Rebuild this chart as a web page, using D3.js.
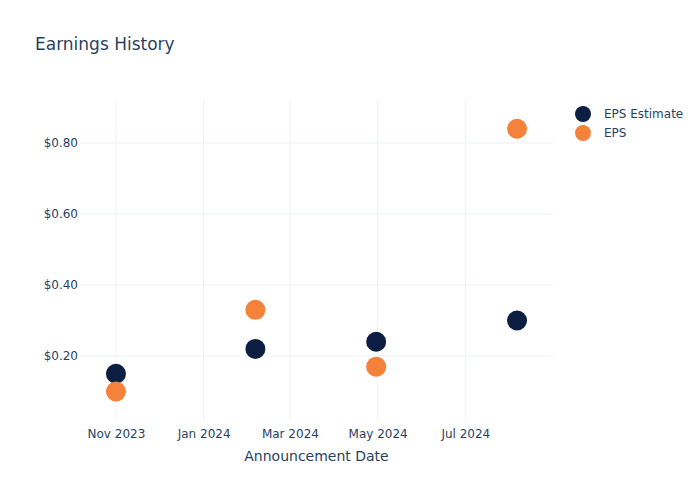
<!DOCTYPE html>
<html><head><meta charset="utf-8">
<script src="https://cdn.jsdelivr.net/npm/d3@7"></script>
<style>body{margin:0;background:#fff;}svg,svg text{font-family:"DejaVu Sans",sans-serif;}</style>
</head><body>
<svg id="c" width="700" height="500"></svg>
<script>
const dates = ["2023-11-01","2024-02-06","2024-04-30","2024-08-06"];
const epsEstimate = [0.15, 0.22, 0.24, 0.30];
const eps = [0.10, 0.33, 0.17, 0.84];
const seriesNames = ["EPS Estimate","EPS"];
const seriesColors = ["#0c1f42","#f5823a"];
const xTicks = ["2023-11-01","2024-01-01","2024-03-01","2024-05-01","2024-07-01"];
const yTicks = [0.2,0.4,0.6,0.8];

const parse = d3.utcParse("%Y-%m-%d");
const svg = d3.select("#c");
const L=80, R=553, T=101, B=421;
const x = d3.scaleUtc().domain([parse("2023-10-07"), parse("2024-08-31")]).range([L,R]);
const y = d3.scaleLinear().domain([0.017, 0.918]).range([B,T]);
const txt = "#2a3f5f", grid = "#ebf0f8", font = "DejaVu Sans, sans-serif";

// gridlines
svg.append("g").selectAll("line").data(xTicks).join("line")
  .attr("x1",d=>x(parse(d))).attr("x2",d=>x(parse(d))).attr("y1",T-1).attr("y2",B-1)
  .attr("stroke",grid).attr("stroke-width",1);
svg.append("g").selectAll("line").data(yTicks).join("line")
  .attr("x1",L).attr("x2",R).attr("y1",d=>y(d)).attr("y2",d=>y(d))
  .attr("stroke",grid).attr("stroke-width",1);

// axes
const xAxis = d3.axisBottom(x).tickValues(xTicks.map(parse)).tickFormat(d3.utcFormat("%b %Y")).tickSize(0).tickPadding(9);
const gx = svg.append("g").attr("transform",`translate(0,${B-1})`).call(xAxis).attr("font-family",font);
gx.select(".domain").remove();
gx.selectAll("text").attr("fill",txt).attr("font-size",12).attr("dy","0.71em");
const yAxis = d3.axisLeft(y).tickValues(yTicks).tickFormat(d=>"$"+d.toFixed(2)).tickSize(0).tickPadding(2);
const gy = svg.append("g").attr("transform",`translate(${L},0)`).call(yAxis).attr("font-family",font);
gy.select(".domain").remove();
gy.selectAll("text").attr("fill",txt).attr("font-size",12);

// points
const series = [epsEstimate, eps];
series.forEach((vals,i)=>{
  svg.append("g").selectAll("circle").data(vals).join("circle")
    .attr("cx",(d,j)=>x(parse(dates[j]))).attr("cy",d=>y(d)).attr("r",10)
    .attr("fill",seriesColors[i]);
});

// title
svg.append("text").attr("x",35).attr("y",50).text("Earnings History")
  .attr("fill",txt).attr("font-size",17);
svg.append("text").attr("x",(L+R)/2).attr("y",461).attr("text-anchor","middle")
  .text("Announcement Date").attr("fill",txt).attr("font-size",14);

// legend
const lg = svg.append("g").selectAll("g").data(seriesNames).join("g")
  .attr("transform",(d,i)=>`translate(583,${114+i*19})`);
lg.append("circle").attr("r",8).attr("fill",(d,i)=>seriesColors[i]);
lg.append("text").attr("x",21).attr("dy","0.35em").text(d=>d).attr("fill",txt).attr("font-size",12);
</script>
</body></html>
